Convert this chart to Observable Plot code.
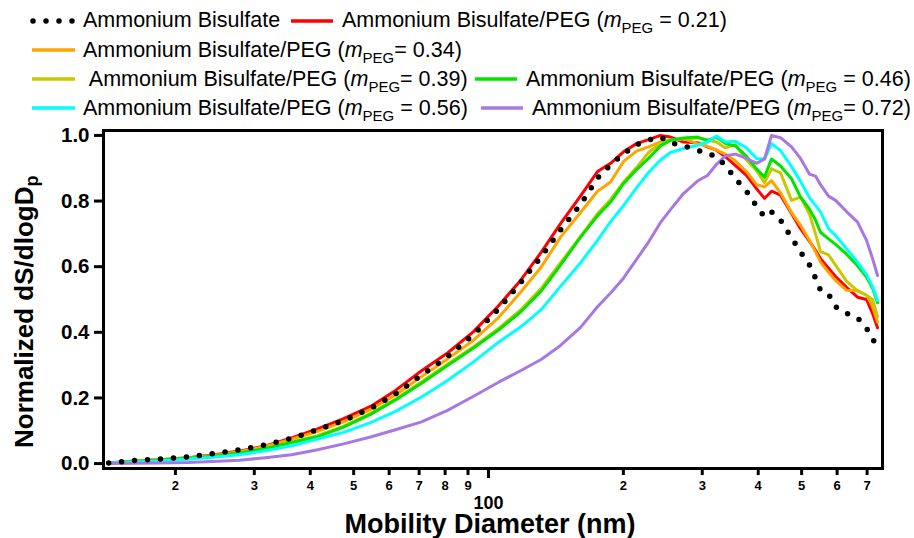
<!DOCTYPE html>
<html>
<head>
<meta charset="utf-8">
<script src="https://cdn.jsdelivr.net/npm/d3@7"></script>
<script src="https://cdn.jsdelivr.net/npm/@observablehq/plot@0.6"></script>
<style>
  html, body { margin: 0; padding: 0; background: #fff; }
  #wrap { position: relative; width: 914px; height: 538px; overflow: hidden; font-family: "Liberation Sans", Arial, sans-serif; }
  #legend { position: absolute; left: 0; top: 0; z-index: 2; }
  #chart { position: absolute; left: 0; top: 120px; z-index: 1; }
</style>
</head>
<body>
<div id="wrap"><div id="legend"></div><div id="chart"></div></div>
<script>
// ---------- DATA ----------
const diameters = [14.19,16.21,18.53,21.29,24.20,27.81,31.78,36.33,41.53,47.47,54.53,62.00,70.87,81.00,92.58,105.3,117.9,131.3,144.8,160.5,175.1,187.3,200.1,214.0,227.6,242.0,254.8,272.4,292.7,308.2,322.8,338.1,355.9,376.6,396.5,413.1,428.3,448.6,474.7,497.2,520.7,537.0,551.0,574.1,595.3,629.8,666.5,698.1,719.8,738.6];

const abValues  = [.002,.009,.014,.020,.030,.042,.057,.077,.103,.131,.168,.212,.270,.326,.393,.471,.551,.632,.712,.790,.870,.910,.944,.972,.986,.995,.978,.968,.955,.945,.935,.908,.868,.830,.785,.752,.767,.742,.688,.645,.605,.565,.528,.517,.478,.458,.444,.412,.380,.355];
const peg021 = [.002,.008,.012,.018,.026,.038,.054,.078,.106,.137,.174,.223,.283,.337,.402,.481,.558,.645,.731,.816,.890,.915,.950,.975,.987,1.0,.995,.980,.978,.965,.955,.935,.908,.878,.838,.808,.830,.818,.762,.716,.677,.650,.624,.595,.570,.537,.507,.500,.458,.414];
const peg034 = [.002,.008,.012,.017,.025,.036,.052,.074,.098,.127,.165,.209,.265,.319,.376,.445,.522,.600,.690,.765,.830,.858,.920,.952,.965,.980,.986,.990,.975,.967,.955,.943,.922,.890,.850,.843,.862,.825,.765,.726,.680,.645,.614,.583,.558,.528,.527,.513,.480,.431];
const peg039 = [.002,.007,.011,.016,.023,.033,.047,.066,.085,.114,.153,.197,.249,.303,.356,.412,.468,.535,.612,.692,.762,.805,.858,.902,.948,.976,.985,.990,.992,.986,.980,.962,.972,.925,.893,.856,.898,.886,.802,.812,.760,.700,.646,.636,.605,.556,.526,.513,.500,.448];
const peg046 = [.001,.007,.011,.016,.022,.032,.046,.064,.082,.111,.150,.194,.245,.299,.352,.407,.462,.527,.605,.690,.755,.797,.853,.896,.930,.968,.985,.992,.995,.985,.995,.975,.968,.936,.898,.873,.928,.907,.868,.812,.775,.742,.705,.685,.668,.638,.603,.568,.535,.490];
const peg056 = [.001,.005,.008,.013,.019,.027,.039,.054,.075,.095,.125,.159,.203,.253,.310,.370,.416,.470,.540,.612,.680,.737,.786,.840,.887,.925,.948,.960,.970,.980,.998,.980,.982,.962,.930,.928,.975,.954,.905,.860,.810,.787,.767,.716,.695,.655,.614,.576,.540,.497];
const peg072 = [.000,.001,.002,.003,.006,.010,.018,.027,.042,.060,.081,.103,.127,.162,.205,.248,.283,.318,.360,.415,.478,.520,.565,.622,.675,.734,.774,.823,.861,.878,.912,.938,.943,.930,.915,.928,1.0,.993,.965,.930,.882,.876,.850,.815,.802,.768,.736,.680,.625,.573];

const seriesLabels = [
  "Ammonium Bisulfate",
  "Ammonium Bisulfate/PEG (m_PEG = 0.21)",
  "Ammonium Bisulfate/PEG (m_PEG= 0.34)",
  " Ammonium Bisulfate/PEG (m_PEG= 0.39)",
  "Ammonium Bisulfate/PEG (m_PEG = 0.46)",
  "Ammonium Bisulfate/PEG (m_PEG = 0.56)",
  "Ammonium Bisulfate/PEG (m_PEG= 0.72)"
];
const seriesValues = [abValues, peg021, peg034, peg039, peg046, peg056, peg072];

const yTicks = [0, 0.2, 0.4, 0.6, 0.8, 1.0];
const xMinorTicks = [20, 30, 40, 50, 60, 70, 80, 90, 200, 300, 400, 500, 600, 700];
const xMinorLabels = ["2","3","4","5","6","7","8","9","2","3","4","5","6","7"];
const xMajorTicks = [100];
const xMajorLabels = ["100"];
const xTitle = "Mobility Diameter (nm)";
const yTitle = "Normalized dS/dlogD";
const yTitleSub = "p";

// ---------- STYLE / LAYOUT ----------
const colors = ["#000000", "#ff0000", "#ffa500", "#c8c800", "#00e400", "#00ffff", "#a878e2"];
const drawOrder = [1, 2, 3, 4, 5, 6, 0];
const legendLayout = [
  {lx0: 33, lx1: 75, ly: 21, tx: 83, ty: 27},
  {lx0: 291, lx1: 333, ly: 21, tx: 342, ty: 27},
  {lx0: 32, lx1: 75, ly: 50, tx: 83, ty: 56.5},
  {lx0: 32, lx1: 75, ly: 79, tx: 84, ty: 86},
  {lx0: 475, lx1: 517, ly: 79, tx: 526, ty: 86},
  {lx0: 32, lx1: 75, ly: 108, tx: 83, ty: 114.5},
  {lx0: 481, lx1: 523, ly: 108, tx: 532, ty: 114.5}
];
const FONT = "Liberation Sans, Arial, Helvetica, sans-serif";
const FRAME_H = 338; // plot-area height in px (418 - 10 - 70)

function lineStyle(i) {
  return i === 0
    ? {stroke: colors[0], strokeWidth: 5.5, strokeDasharray: "0 13", strokeLinecap: "round"}
    : {stroke: colors[i], strokeWidth: 3, strokeLinejoin: "round"};
}

// ---------- LEGEND ----------
const leg = d3.select("#legend").append("svg")
  .attr("width", 914).attr("height", 130)
  .style("overflow", "visible")
  .style("font-family", FONT);
seriesLabels.forEach((label, i) => {
  const L = legendLayout[i];
  const st = lineStyle(i);
  leg.append("line")
    .attr("x1", L.lx0).attr("x2", L.lx1).attr("y1", L.ly).attr("y2", L.ly)
    .attr("stroke", st.stroke).attr("stroke-width", i === 0 ? 5.5 : 3.5)
    .attr("stroke-dasharray", st.strokeDasharray || null)
    .attr("stroke-linecap", st.strokeLinecap || "butt");
  const t = leg.append("text").attr("x", L.tx).attr("y", L.ty)
    .attr("font-size", 21.5).attr("fill", "#000")
    .style("white-space", "pre").attr("xml:space", "preserve");
  const parts = label.split("m_PEG");
  t.append("tspan").text(parts[0]);
  if (parts.length > 1) {
    t.append("tspan").attr("font-style", "italic").text("m");
    t.append("tspan").attr("font-size", 15).attr("dy", 6).text("PEG");
    t.append("tspan").attr("dy", -6).text(parts[1]);
  }
});

// ---------- PLOT ----------
const lineMarks = drawOrder.map(i =>
  Plot.line(diameters.map((d, k) => ({d, v: seriesValues[i][k]})),
    {x: "d", y: "v", ...lineStyle(i)})
);

// x axis ticks drawn as short rules hanging below the frame, labels as text
function xAxisMarks(ticks, labels, tickLen, labelDy, fontSize) {
  return [
    Plot.ruleX(ticks, {x: d => d, insetTop: FRAME_H, insetBottom: -tickLen, stroke: "#000", strokeWidth: 3}),
    Plot.text(ticks, {x: d => d, text: (d, i) => labels[i], frameAnchor: "bottom", lineAnchor: "top",
      dy: labelDy, fontSize, fontWeight: "bold", fill: "#000"})
  ];
}

const chart = Plot.plot({
  width: 914,
  height: 418,
  marginLeft: 103,
  marginRight: 32,
  marginTop: 10,
  marginBottom: 70,
  style: {fontFamily: FONT, color: "#000", background: "transparent", overflow: "visible"},
  x: {type: "log", domain: [13.82, 757.7], axis: null},
  y: {domain: [-0.015, 1.015]},
  marks: [
    ...lineMarks,
    Plot.frame({stroke: "#000", strokeWidth: 3}),
    Plot.axisY(yTicks, {tickFormat: d3.format(".1f"), tickSize: 9, tickPadding: 5,
      fontSize: 20.5, fontWeight: "bold", strokeWidth: 3, label: null}),
    ...xAxisMarks(xMinorTicks, xMinorLabels, 7, 12, 13),
    ...xAxisMarks(xMajorTicks, xMajorLabels, 10, 28, 18)
  ]
});
document.getElementById("chart").appendChild(chart);

const svg = d3.select(chart);
// x axis title
svg.append("text")
  .attr("x", 490).attr("y", 413)
  .attr("text-anchor", "middle")
  .attr("font-family", FONT).attr("font-size", 27).attr("font-weight", "bold")
  .attr("fill", "#000")
  .text(xTitle);
// y axis title with subscript
const yt = svg.append("text")
  .attr("transform", "translate(33,328) rotate(-90)")
  .attr("text-anchor", "start")
  .attr("font-family", FONT).attr("font-size", 26).attr("font-weight", "bold")
  .attr("fill", "#000");
yt.append("tspan").text(yTitle);
yt.append("tspan").attr("font-size", 18).attr("dy", 5).text(yTitleSub);
</script>
</body>
</html>
